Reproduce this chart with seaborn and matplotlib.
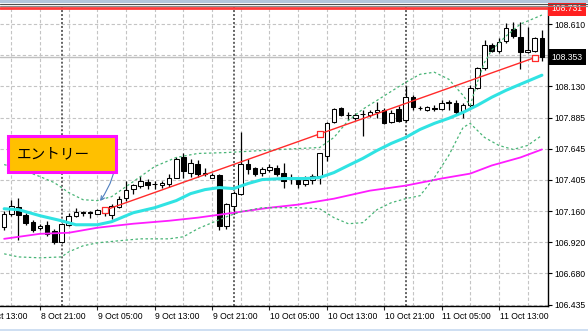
import numpy as np
import pandas as pd
import matplotlib
matplotlib.use("Agg")
import matplotlib.pyplot as plt
from matplotlib.patches import Rectangle
from matplotlib.lines import Line2D
import seaborn as sns

# ---------------- data (USDJPY H1) ----------------
bar_index = list(range(-5, 71))
opens = [107.041, 107.142, 107.196, 107.134, 107.080, 107.033, 107.056, 107.009, 106.924, 107.056,
         107.126, 107.157, 107.157, 107.142, 107.149, 107.134, 107.196, 107.266, 107.336, 107.359,
         107.390, 107.375, 107.367, 107.375, 107.421, 107.584, 107.460, 107.530, 107.452, 107.421,
         107.445, 107.048, 107.204, 107.297, 107.530, 107.499, 107.460, 107.483, 107.499, 107.460,
         107.414, 107.406, 107.375, 107.406, 107.437, 107.592, 107.849, 107.957, 107.903, 107.880,
         107.911, 107.903, 107.926, 107.942, 107.849, 107.950, 107.864, 108.043, 107.957, 107.942,
         107.957, 107.950, 107.996, 107.996, 107.934, 107.981, 108.113, 108.268, 108.447, 108.400,
         108.478, 108.571, 108.509, 108.392, 108.400, 108.501]
highs = [107.165, 107.250, 107.266, 107.149, 107.095, 107.064, 107.087, 107.025, 107.072, 107.149,
         107.188, 107.160, 107.160, 107.176, 107.196, 107.219, 107.281, 107.398, 107.375, 107.437,
         107.414, 107.398, 107.398, 107.452, 107.577, 107.608, 107.569, 107.561, 107.499, 107.460,
         107.452, 107.227, 107.320, 107.771, 107.569, 107.502, 107.507, 107.530, 107.515, 107.538,
         107.452, 107.421, 107.437, 107.452, 107.615, 107.849, 107.957, 107.965, 107.926, 107.919,
         107.942, 107.942, 108.004, 107.957, 107.942, 107.973, 108.128, 108.058, 107.973, 107.973,
         107.981, 108.019, 108.019, 108.019, 107.996, 108.136, 108.276, 108.486, 108.462, 108.501,
         108.618, 108.626, 108.626, 108.587, 108.509, 108.563]
lows = [107.017, 107.126, 106.940, 107.056, 107.002, 107.017, 106.971, 106.908, 106.916, 107.048,
        107.118, 107.126, 107.111, 107.138, 107.126, 107.103, 107.188, 107.243, 107.297, 107.344,
        107.336, 107.336, 107.344, 107.351, 107.418, 107.421, 107.429, 107.429, 107.437, 107.418,
        107.017, 107.025, 107.142, 107.289, 107.452, 107.437, 107.437, 107.468, 107.437, 107.344,
        107.375, 107.344, 107.359, 107.375, 107.375, 107.553, 107.841, 107.895, 107.864, 107.864,
        107.740, 107.888, 107.880, 107.833, 107.841, 107.849, 107.849, 107.942, 107.942, 107.934,
        107.934, 107.942, 107.942, 107.911, 107.880, 107.965, 108.105, 108.253, 108.392, 108.385,
        108.462, 108.501, 108.260, 108.385, 108.392, 108.323]
closes = [107.142, 107.204, 107.134, 107.072, 107.017, 107.048, 106.986, 106.924, 107.064, 107.126,
          107.157, 107.149, 107.149, 107.173, 107.180, 107.204, 107.258, 107.328, 107.367, 107.398,
          107.367, 107.373, 107.382, 107.421, 107.569, 107.476, 107.538, 107.452, 107.455, 107.445,
          107.048, 107.219, 107.305, 107.530, 107.491, 107.452, 107.491, 107.507, 107.452, 107.398,
          107.411, 107.375, 107.406, 107.437, 107.608, 107.841, 107.950, 107.903, 107.906, 107.903,
          107.914, 107.926, 107.942, 107.841, 107.919, 107.856, 108.043, 107.965, 107.960, 107.965,
          107.955, 107.996, 108.004, 107.926, 107.981, 108.113, 108.268, 108.447, 108.400, 108.470,
          108.579, 108.517, 108.392, 108.408, 108.501, 108.353]

ma_fast_index = [-5, -3, 0, 3, 5, 8, 10, 13, 16, 19, 21, 23, 25, 27, 29, 31, 34, 37, 39, 41,
                 43, 45, 47, 49, 51, 53, 55, 57, 59, 61, 63, 65, 67, 70]
ma_fast = [107.180, 107.173, 107.126, 107.087, 107.056, 107.056, 107.080, 107.149, 107.188, 107.243,
           107.297, 107.328, 107.344, 107.336, 107.375, 107.406, 107.414, 107.414, 107.421, 107.460,
           107.515, 107.569, 107.631, 107.686, 107.732, 107.794, 107.841, 107.880, 107.926, 107.981,
           108.043, 108.097, 108.144, 108.214]

ma_slow_index = [-5, 0, 4, 8, 13, 18, 22, 27, 32, 36, 41, 46, 51, 56, 60, 63, 67, 70]
ma_slow = [106.947, 106.986, 106.994, 107.033, 107.064, 107.087, 107.111, 107.149, 107.188, 107.212,
           107.258, 107.320, 107.359, 107.414, 107.452, 107.515, 107.577, 107.639]

bb_upper_index = [-5, -3, 0, 2, 4, 6, 8, 10, 13, 16, 19, 22, 26, 31, 36, 39, 41, 43, 45, 47,
                  49, 51, 53, 55, 57, 59, 60, 61, 62, 63, 65, 67, 69, 70]
bb_upper = [107.522, 107.491, 107.429, 107.382, 107.305, 107.250, 107.243, 107.274, 107.390, 107.507,
            107.577, 107.608, 107.615, 107.631, 107.646, 107.654, 107.732, 107.864, 107.950, 108.019,
            108.089, 108.159, 108.221, 108.237, 108.183, 108.058, 107.980, 108.160, 108.314, 108.408,
            108.517, 108.610, 108.656, 108.680]

bb_lower_index = [-5, -3, 0, 3, 4, 6, 8, 11, 14, 18, 20, 22, 24, 26, 28, 31, 36, 39, 41, 43,
                  45, 47, 49, 51, 53, 55, 57, 59, 60, 62, 64, 66, 68, 70]
bb_lower = [106.831, 106.807, 106.800, 106.807, 106.846, 106.893, 106.916, 106.932, 106.947, 106.947,
            106.963, 107.025, 107.072, 107.118, 107.157, 107.188, 107.188, 107.180, 107.111, 107.064,
            107.072, 107.173, 107.227, 107.258, 107.281, 107.421, 107.592, 107.809, 107.841, 107.732,
            107.670, 107.639, 107.670, 107.748]

trend_index = [9, 69]
trend_price = [107.168, 108.350]
trend_marker_index = [9, 39, 69]

alert_price = 108.731
bid_price = 108.353

price_ticks = [106.435, 106.680, 106.920, 107.160, 107.405, 107.645, 107.885, 108.130, 108.370, 108.610]
price_labels = ["106.435", "106.680", "106.920", "107.160", "107.405", "107.645", "107.885",
                "108.130", "", "108.610"]
time_label_index = [-8, 0, 8, 16, 24, 32, 40, 48, 56, 64]
time_labels = ["8 Oct 13:00", "8 Oct 21:00", "9 Oct 05:00", "9 Oct 13:00", "9 Oct 21:00",
               "10 Oct 05:00", "10 Oct 13:00", "10 Oct 21:00", "11 Oct 05:00", "11 Oct 13:00"]
grid_index = list(range(-4, 71, 4))
day_separators = [3, 27, 51]
callout_text = "エントリー"

# ---------------- figure ----------------
sns.set_style("white")
plt.rcParams["font.family"] = ["Liberation Sans", "DejaVu Sans"]

W, H = 588, 331
fig = plt.figure(figsize=(W / 100, H / 100), dpi=100)
ax_top, ax_bot, ax_right = 7, 306, 548
ax = fig.add_axes([0, 1 - ax_bot / H, ax_right / W, (ax_bot - ax_top) / H])
ax.set_xlim(-5.58, 70.85)
ax.set_ylim(106.427, 108.742)

# grid
for g in grid_index:
    ax.axvline(g, color="#c4c4c4", lw=0.8, ls=(0, (3, 2)), zorder=0)
for p in price_ticks:
    ax.axhline(p, color="#c4c4c4", lw=0.8, ls=(0, (3, 2)), zorder=0)
for d in day_separators:
    ax.axvline(d, color="#3a3a3a", lw=1.1, ls=(0, (1.3, 1.3)), zorder=0.5)

# bid line
ax.axhline(bid_price, color="#c0c0c0", lw=1.0, zorder=1)

# candles
df = pd.DataFrame({"i": bar_index, "o": opens, "h": highs, "l": lows, "c": closes})
ax.vlines(df["i"], df["l"], df["h"], color="black", lw=0.9, zorder=2)
body_bottom = np.minimum(df["o"], df["c"])
body_height = np.maximum(np.abs(df["c"] - df["o"]), 0.0015)
face = np.where(df["c"] >= df["o"], "white", "black")
ax.bar(df["i"], body_height, bottom=body_bottom, width=0.64, color=face,
       edgecolor="black", linewidth=0.75, zorder=3)

# indicators
sns.lineplot(x=ma_slow_index, y=ma_slow, ax=ax, color="#ff1cff", lw=1.3, zorder=4)
sns.lineplot(x=bb_upper_index, y=bb_upper, ax=ax, color="#49b577", lw=0.9, ls=(0, (2, 2)), zorder=4)
sns.lineplot(x=bb_lower_index, y=bb_lower, ax=ax, color="#49b577", lw=0.9, ls=(0, (2, 2)), zorder=4)
sns.lineplot(x=ma_fast_index, y=ma_fast, ax=ax, color="#30e3e3", lw=2.2, zorder=4)

# trend line
sns.lineplot(x=trend_index, y=trend_price, ax=ax, color="#ff2a2a", lw=1.0, zorder=5)
ax.scatter(trend_marker_index, np.interp(trend_marker_index, trend_index, trend_price),
           marker="s", s=14, facecolor="white", edgecolor="#ff2a2a", linewidth=0.9, zorder=6)

# alert line
ax.axhline(alert_price, color="#ff3b3b", lw=2.0, zorder=5)

# axes styling
for s in ["left", "top"]:
    ax.spines[s].set_visible(False)
for s in ["right", "bottom"]:
    ax.spines[s].set_visible(True)
    ax.spines[s].set_color("black")
    ax.spines[s].set_linewidth(1.0)
ax.yaxis.tick_right()
ax.set_yticks(price_ticks)
ax.set_yticklabels(price_labels)
ax.tick_params(axis="y", length=3, width=0.8, pad=1.5, labelsize=6.2, colors="black", right=True, left=False)
ax.set_xticks([t for t in time_label_index if t >= -5.5])
ax.set_xticklabels([])
ax.tick_params(axis="x", length=3, width=0.8, bottom=True)
ax.set_xlabel("")
ax.set_ylabel("")

for t, lab in zip(time_label_index, time_labels):
    ax.annotate(lab, xy=(t, 0), xycoords=("data", "axes fraction"), xytext=(0.5, -4.5),
                textcoords="offset points", ha="left", va="top", fontsize=6.2, color="black",
                annotation_clip=False)

# price boxes on the axis
ax.annotate(f"{alert_price:.3f}", xy=(1, alert_price), xycoords=("axes fraction", "data"),
            xytext=(2.8, 0), textcoords="offset points", ha="left", va="center", fontsize=6.2,
            color="white", bbox=dict(boxstyle="square,pad=0.4", fc="#ff2020", ec="none"),
            annotation_clip=False, zorder=10)
ax.annotate(f"{bid_price:.3f}", xy=(1, bid_price), xycoords=("axes fraction", "data"),
            xytext=(2.8, 0), textcoords="offset points", ha="left", va="center", fontsize=6.2,
            color="white", bbox=dict(boxstyle="square,pad=0.4", fc="black", ec="none"),
            annotation_clip=False, zorder=10)

# window frame bits
fig.add_artist(Rectangle((0, 1 - 3 / H), 1, 3 / H, transform=fig.transFigure, fc="#b3c6dd", ec="none"))
fig.add_artist(Line2D([0, 1], [1 - 3.6 / H] * 2, transform=fig.transFigure, color="#505050", lw=0.8))
fig.add_artist(Line2D([0, 1], [1 - 5.6 / H] * 2, transform=fig.transFigure, color="#8c8c8c", lw=0.8))
fig.add_artist(Rectangle((0, 0), 1, 2.5 / H, transform=fig.transFigure, fc="#cfdff2", ec="none"))

# callout
fig.add_artist(Rectangle((7.5 / W, 1 - 172 / H), 108 / W, 36 / H, transform=fig.transFigure,
                         fc="#ffc000", ec="#ff10ff", lw=2.2, zorder=10))
fig.text(17 / W, 1 - 154.5 / H, callout_text, fontsize=10.5, family=["Noto Sans CJK JP", "DejaVu Sans"],
         va="center", ha="left", color="black", zorder=11)
ax.annotate("", xy=(100 / W, 1 - 201 / H), xycoords="figure fraction",
            xytext=(117 / W, 1 - 152 / H), textcoords="figure fraction",
            arrowprops=dict(arrowstyle="->", color="#4f7fbf", lw=0.8, shrinkA=0, shrinkB=0,
                            connectionstyle="arc3,rad=-0.15", mutation_scale=7),
            annotation_clip=False, zorder=11)

fig.savefig("out.png", dpi=100)
